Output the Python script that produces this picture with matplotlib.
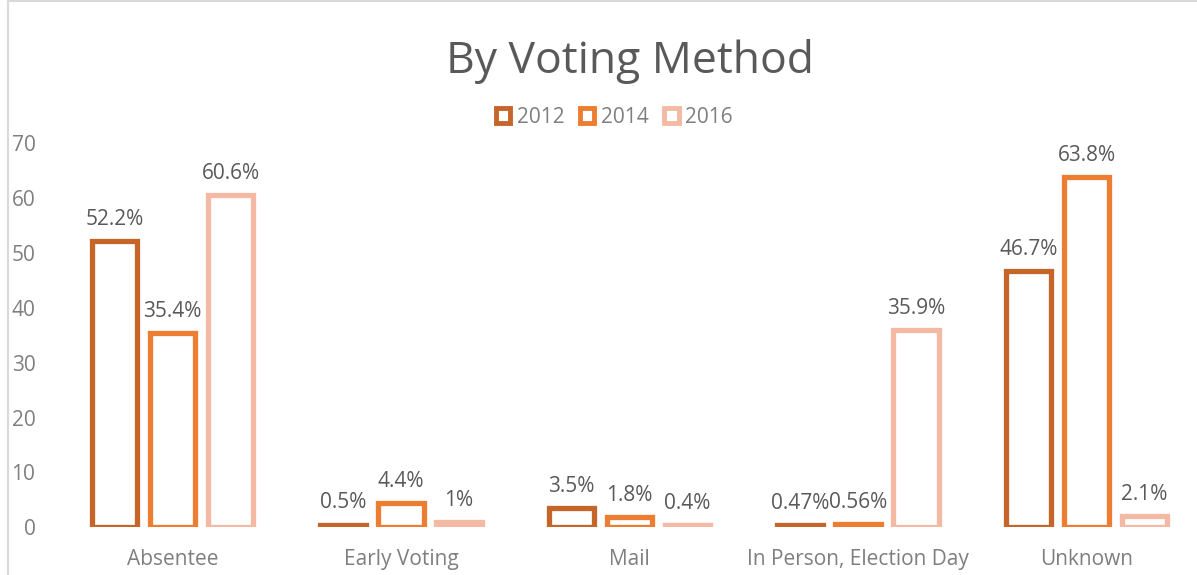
import numpy as np
import matplotlib.pyplot as plt
from matplotlib.patches import Patch
from matplotlib.lines import Line2D

categories = ["Absentee", "Early Voting", "Mail", "In Person, Election Day", "Unknown"]
years = ["2012", "2014", "2016"]
v2012 = [52.2, 0.5, 3.5, 0.47, 46.7]
v2014 = [35.4, 4.4, 1.8, 0.56, 63.8]
v2016 = [60.6, 1.0, 0.4, 35.9, 2.1]
lab2012 = ["52.2%", "0.5%", "3.5%", "0.47%", "46.7%"]
lab2014 = ["35.4%", "4.4%", "1.8%", "0.56%", "63.8%"]
lab2016 = ["60.6%", "1%", "0.4%", "35.9%", "2.1%"]

colors = ["#C6652A", "#ED7D31", "#F4B9A3"]
font = ["Open Sans", "DejaVu Sans"]
plt.rcParams['font.family'] = font

fig = plt.figure(figsize=(11.97, 5.75), dpi=100)
ax = fig.add_axes([0.0487, 0.083, 0.9545, 0.668])

x = np.arange(len(categories))
w = 0.2
step = 0.254
series = [v2012, v2014, v2016]
labels = [lab2012, lab2014, lab2016]
for i, (vals, labs) in enumerate(zip(series, labels)):
    pos = x + (i - 1) * step
    ax.bar(pos, vals, width=w, facecolor="white", edgecolor=colors[i], linewidth=3.8)
    for px, v, t in zip(pos, vals, labs):
        ax.annotate(t, (px, v), xytext=(0, 8), textcoords="offset points",
                    ha="center", va="bottom", fontsize=15, color="#595959")

ax.set_xlim(-0.5, 4.5)
ax.set_ylim(0, 70)
ax.set_yticks(range(0, 71, 10))
ax.set_xticks(x)
ax.set_xticklabels(categories)
ax.tick_params(axis="y", length=0, pad=16.5, labelsize=15, labelcolor="#7F7F7F")
ax.tick_params(axis="x", length=0, pad=16, labelsize=15, labelcolor="#7F7F7F")
for s in ax.spines.values():
    s.set_visible(False)

fig.text(0.526, 0.893, "By Voting Method", ha="center", va="center",
         fontsize=32, color="#595959")

handles = [Patch(facecolor="white", edgecolor=c, linewidth=3.5) for c in colors]
fig.legend(handles, years, loc="center", bbox_to_anchor=(0.513, 0.796), ncol=3,
           frameon=False, fontsize=15, labelcolor="#7F7F7F",
           handlelength=0.7, handleheight=0.7, handletextpad=0.3, columnspacing=0.75)

# chart frame lines at left and top
fig.add_artist(Line2D([0.007, 0.007], [0, 1], color="#D9D9D9", linewidth=1.5))
fig.add_artist(Line2D([0.007, 1], [0.999, 0.999], color="#D9D9D9", linewidth=1.5))

fig.savefig("out.png", dpi=100)
